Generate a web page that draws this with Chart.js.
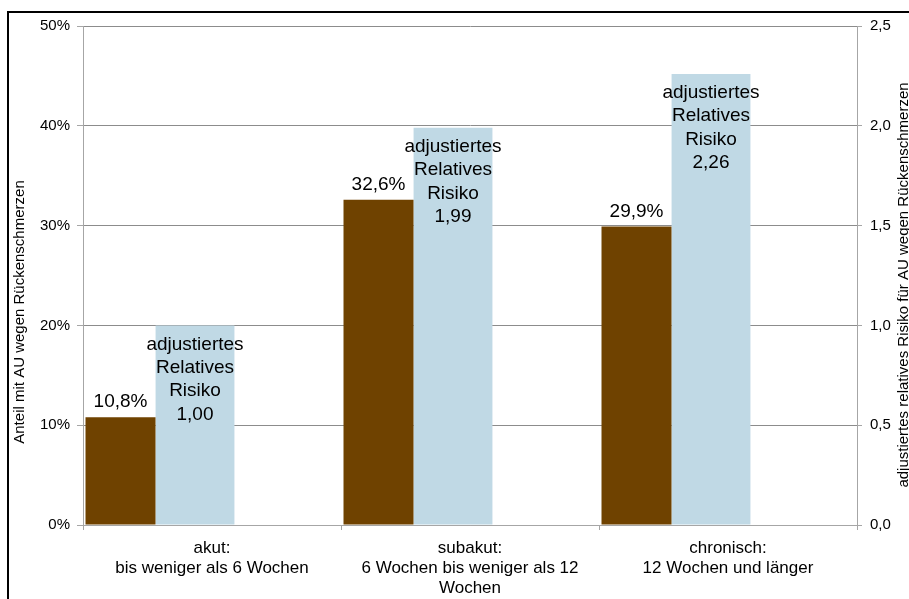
<!DOCTYPE html>
<html>
<head>
<meta charset="utf-8">
<script src="https://cdn.jsdelivr.net/npm/chart.js@4.4.0/dist/chart.umd.min.js"></script>
<style>
    html, body { margin: 0; padding: 0; background: #fff; overflow: hidden; }
    #rahmen { position: absolute; left: 7px; top: 11px; width: 1000px; height: 700px; border: 2px solid #000; }
    #grafico { position: absolute; left: 0; top: 0; }
</style>
</head>
<body>
<div id="rahmen"></div>
<canvas id="grafico" width="909" height="599"></canvas>
<script>
const kategorien = [
    ['akut:', 'bis weniger als 6 Wochen'],
    ['subakut:', '6 Wochen bis weniger als 12', 'Wochen'],
    ['chronisch:', '12 Wochen und länger']
]
const anteilAU = [10.8, 32.6, 29.9]
const relativesRisiko = [1.00, 1.99, 2.26]
const anteilTicks = [0, 10, 20, 30, 40, 50]
const risikoTicks = [0, 0.5, 1.0, 1.5, 2.0, 2.5]
const risikoText = ['adjustiertes', 'Relatives', 'Risiko']
const titelLinks = 'Anteil mit AU wegen Rückenschmerzen'
const titelRechts = 'adjustiertes relatives Risiko für AU wegen Rückenschmerzen'

const schrift = '"Liberation Sans", Arial, sans-serif'
const komma = (v, d) => v.toFixed(d).replace('.', ',')

// Beschriftung der Balken und Achsentitel (beide von unten nach oben gelesen)
const beschriftung = {
    id: 'beschriftung',
    afterDatasetsDraw(chart) {
        const ctx = chart.ctx
        ctx.save()
        ctx.fillStyle = '#000'
        ctx.font = '19px ' + schrift
        ctx.textAlign = 'center'
        ctx.textBaseline = 'middle'
        chart.getDatasetMeta(0).data.forEach((bar, i) => {
            ctx.fillText(komma(anteilAU[i], 1) + '%', bar.x, bar.y - 15)
        })
        chart.getDatasetMeta(1).data.forEach((bar, i) => {
            let zeilen = risikoText.concat(komma(relativesRisiko[i], 2))
            zeilen.forEach((z, k) => {
                ctx.fillText(z, bar.x, bar.y + 19 + k * 23.3)
            })
        })

        const area = chart.chartArea
        ctx.font = '15px ' + schrift
        ctx.save()
        ctx.translate(chart.scales.y.left + 20, area.top + 286)
        ctx.rotate(-Math.PI / 2)
        ctx.fillText(titelLinks, 0, 0)
        ctx.restore()
        ctx.save()
        ctx.translate(chart.scales.y1.right - 5, area.top + 259)
        ctx.rotate(-Math.PI / 2)
        ctx.fillText(titelRechts, 0, 0)
        ctx.restore()
        ctx.restore()
    }
}

window.addEventListener('load', (event) => {
    let chartCanvas = document.getElementById('grafico').getContext('2d')
    new Chart(chartCanvas, {
        type: 'bar',
        data: {
            labels: kategorien,
            datasets: [{
                label: 'Anteil mit AU',
                data: anteilAU,
                yAxisID: 'y',
                backgroundColor: '#6f4200',
                categoryPercentage: 0.9457,
                barPercentage: 1.1475
            }, {
                label: 'adjustiertes relatives Risiko',
                data: relativesRisiko,
                yAxisID: 'y1',
                backgroundColor: '#c0d9e5',
                categoryPercentage: 0.527,
                barPercentage: 2.32
            }, {
                label: '',
                data: [null, null, null],
                yAxisID: 'y'
            }, {
                label: '',
                data: [null, null, null],
                yAxisID: 'y'
            }]
        },
        options: {
            responsive: false,
            animation: false,
            layout: { padding: { top: 26, left: 0, right: 0, bottom: 0 } },
            plugins: {
                legend: { display: false },
                tooltip: { enabled: false }
            },
            scales: {
                x: {
                    afterFit: (axis) => { axis.height = 74 },
                    grid: {
                        offset: true,
                        drawOnChartArea: false,
                        tickLength: 5,
                        tickColor: '#a6a6a6'
                    },
                    border: { color: '#a6a6a6' },
                    ticks: {
                        color: '#000',
                        padding: 8,
                        maxRotation: 0,
                        autoSkip: false,
                        font: { family: schrift, size: 17, lineHeight: 1.18 }
                    }
                },
                y: {
                    position: 'left',
                    min: 0,
                    max: 50,
                    afterFit: (axis) => { axis.width = 83 },
                    afterBuildTicks: (axis) => { axis.ticks = anteilTicks.map(v => ({ value: v })) },
                    grid: {
                        color: '#8c8c8c',
                        tickColor: '#a6a6a6',
                        tickLength: 6
                    },
                    border: { color: '#a6a6a6' },
                    ticks: {
                        color: '#000',
                        padding: 7,
                        font: { family: schrift, size: 15 },
                        callback: (v) => v + '%'
                    }
                },
                y1: {
                    position: 'right',
                    min: 0,
                    max: 2.5,
                    afterFit: (axis) => { axis.width = 52 },
                    afterBuildTicks: (axis) => { axis.ticks = risikoTicks.map(v => ({ value: v })) },
                    grid: {
                        drawOnChartArea: false,
                        tickColor: '#a6a6a6',
                        tickLength: 5
                    },
                    border: { color: '#a6a6a6' },
                    ticks: {
                        color: '#000',
                        padding: 8,
                        font: { family: schrift, size: 15 },
                        callback: (v) => komma(v, 1)
                    }
                }
            }
        },
        plugins: [beschriftung]
    })
})
</script>
</body>
</html>
